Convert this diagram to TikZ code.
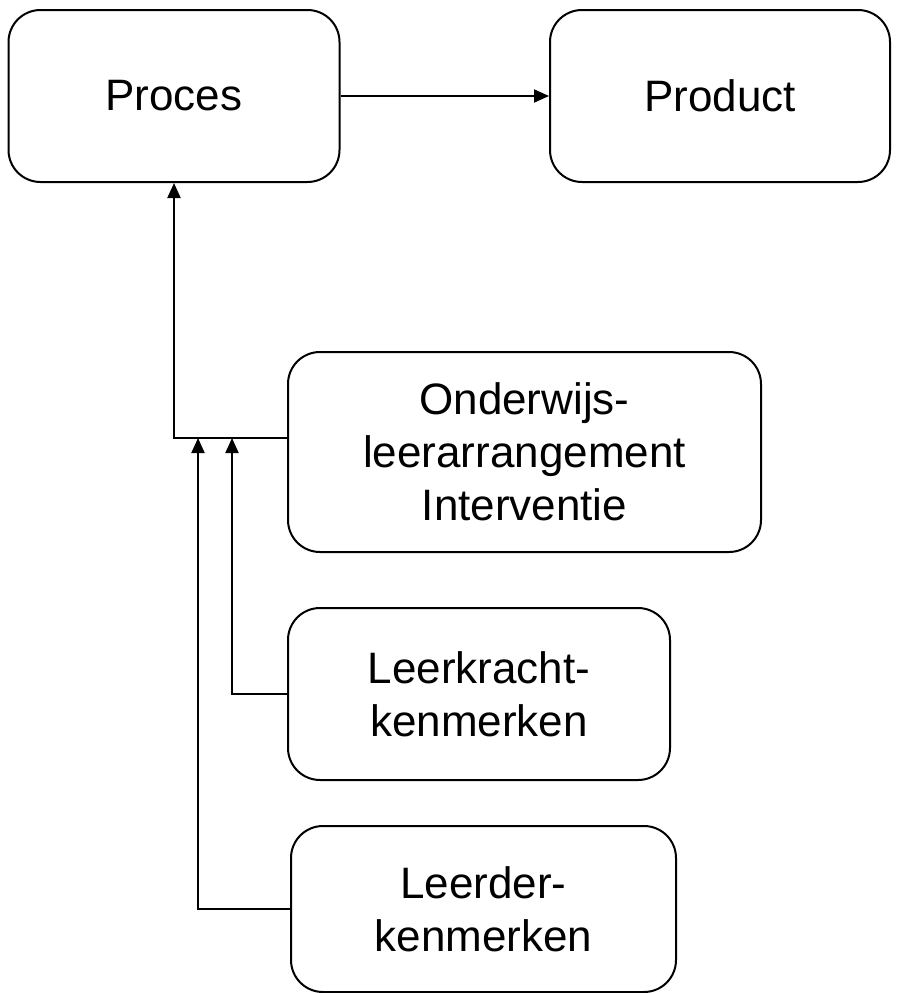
\documentclass[tikz,border=0pt]{standalone}
\usepackage{fontspec}
\setmainfont{Liberation Sans}
\usetikzlibrary{arrows.meta}

\begin{document}
\begin{tikzpicture}[x=1pt, y=-1pt,
  box/.style={draw, line width=2pt, rounded corners=32pt, inner sep=0pt,
    align=center, font=\fontsize{44}{53}\selectfont},
  link/.style={line width=2pt, -{Triangle[length=15pt, width=13pt]}}]

\useasboundingbox (0, 0) rectangle (898, 993);

\node[box, minimum width=331pt, minimum height=172pt] (proces) at (174, 96) {Proces};
\node[box, minimum width=340pt, minimum height=172pt] (product) at (720, 96) {Product};

\node[box, minimum width=473pt, minimum height=200pt] (onderwijs) at (524.5, 452) {Onderwijs-\\leerarrangement\\Interventie};
\node[box, minimum width=382pt, minimum height=172pt] (leerkracht) at (479, 694) {Leerkracht-\\kenmerken};
\node[box, minimum width=385pt, minimum height=166pt] (leerder) at (483.5, 909) {Leerder-\\kenmerken};

\coordinate (tip1) at (198, 438);
\coordinate (tip2) at (232, 438);

\draw[link] (proces) -- (product);
\draw[link] ([yshift=14pt]onderwijs.west) -| (proces.south);
\draw[link] (leerkracht.west) -| (tip2);
\draw[link] (leerder.west) -| (tip1);
\end{tikzpicture}
\end{document}
